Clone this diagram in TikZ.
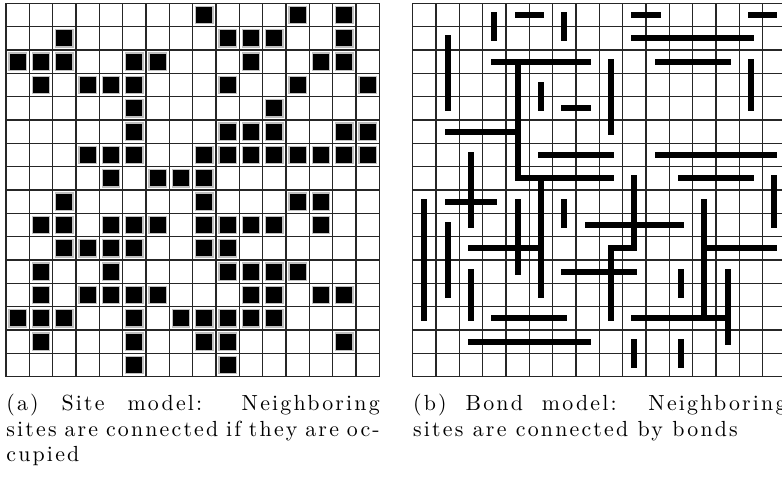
\documentclass[tikz,border=0pt]{standalone}
\usepackage{fontspec}
\setmainfont{lmroman10-regular}[Extension=.otf, LetterSpace=10]
\usetikzlibrary{positioning}

\begin{document}
\begin{tikzpicture}[x=11.2pt, y=11.2pt,
    gridline/.style={line width=0.6pt, black!85},
    site/.style={fill=black, draw=black!25, line width=0.6pt},
    bond/.style={line width=2.9pt, line cap=rect},
    capline/.style={inner sep=0pt, anchor=base west, font=\fontsize{10.5}{12.6}\selectfont}]

        \useasboundingbox (-0.257,0.143) rectangle (33.257,-20.514);
        \clip (-0.257,0.143) rectangle (33.257,-20.514);

        % Site lattice
        \foreach \k in {0,...,16} {
            \draw[gridline] (\k,0) -- (\k,-16);
            \draw[gridline] (0,-\k) -- (16,-\k);
        }

        % Occupied sites, row by row from the top
        \foreach \r/\cols in {0/{8,12,14}, 1/{2,9,10,11,14}, 2/{0,1,2,5,6,10,13,14},
                3/{1,3,4,5,9,12,15}, 4/{5,11}, 5/{5,9,10,11,14,15},
                6/{3,4,5,8,9,10,11,12,13,14,15}, 7/{4,6,7,8}, 8/{2,8,12,13},
                9/{1,2,4,5,6,8,9,10,11,13}, 10/{2,3,4,5,8,9}, 11/{1,4,9,10,11,12},
                12/{1,3,4,5,6,10,11,13,14}, 13/{0,1,2,5,7,8,9,10,11},
                14/{1,5,8,9,14}, 15/{5,9}}
            \foreach \c in \cols
                \filldraw[site] (\c+0.13,-\r-0.13) rectangle (\c+0.87,-\r-0.87);

        % Bond lattice
        \begin{scope}[shift={(17.43,0)}]
            \foreach \k in {0,...,16} {
                \draw[gridline] (\k,0) -- (\k,-16);
                \draw[gridline] (0,-\k) -- (16,-\k);
            }

            % Bonds between neighboring sites (col/row -- col/row)
            \foreach \a/\b/\c/\d in {3/0/3/1, 4/0/5/0, 6/0/6/1, 9/0/10/0, 14/0/15/0,
                    1/1/1/4, 9/1/14/1, 3/2/7/2, 10/2/13/2, 4/2/4/7, 8/2/8/5,
                    14/2/14/4, 5/3/5/4, 6/4/7/4, 1/5/4/5, 5/6/8/6, 10/6/15/6,
                    2/6/2/9, 4/7/8/7, 11/7/14/7, 5/7/5/12, 9/7/9/10, 15/7/15/9,
                    0/8/0/13, 1/8/3/8, 4/8/4/11, 6/8/6/9, 12/8/12/13, 1/9/1/12,
                    7/9/11/9, 2/10/5/10, 8/10/9/10, 8/10/8/13, 12/10/15/10,
                    2/11/2/13, 6/11/9/11, 11/11/11/12, 13/11/13/14, 3/13/6/13,
                    9/13/13/13, 2/14/7/14, 9/14/9/15, 11/14/11/15}
                \draw[bond] (\a+0.5,-\b-0.5) -- (\c+0.5,-\d-0.5);
        \end{scope}

        % Captions
        \node[capline] (capa1) at (0,-17.47) {\makebox[179.2pt][s]{(a) Site model: Neighboring}};
        \node[capline] (capa2) at (0,-18.55) {\makebox[179.2pt][s]{sites are connected if they are oc-}};
        \node[capline] (capa3) at (0,-19.62) {cupied};
        \node[capline] (capb1) at (17.43,-17.47) {\makebox[179.2pt][s]{(b) Bond model: Neighboring}};
        \node[capline] (capb2) at (17.43,-18.55) {sites are connected by bonds};
  \end{tikzpicture}
\end{document}
